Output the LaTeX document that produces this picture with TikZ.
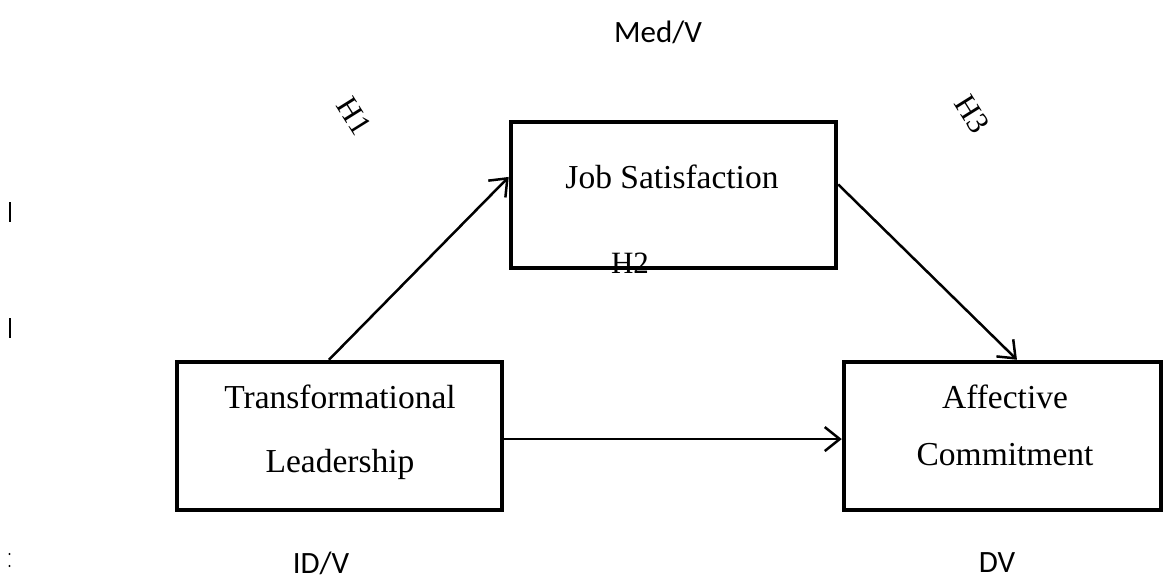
\documentclass[tikz,border=0pt]{standalone}
\usepackage{fontspec}
\setmainfont{Liberation Serif}
\newfontfamily\labsans{Carlito}
\usetikzlibrary{arrows.meta,calc}
\begin{document}
\begin{tikzpicture}[x=1pt,y=-1pt,
  varbox/.style={draw,line width=4.5pt,minimum width=#1,inner sep=0pt},
  serif/.style={font=\fontsize{33.5}{38}\selectfont,inner sep=0pt},
  sanslab/.style={font=\labsans\fontsize{31}{35}\selectfont,inner sep=0pt},
  hyp/.style={font=\fontsize{31}{35}\selectfont,inner sep=0pt},
  link/.style={line width=2.5pt,-{Straight Barb[length=15pt,width=24pt]}}]
\useasboundingbox (0,0) rectangle (1163,579);
% H2 label, partly hidden by the box edge drawn after it
\node[hyp] (h2) at (630,263) {H2};
% boxes
\node[varbox=325pt,minimum height=146pt] (js) at (673.5,195) {};
\node[varbox=325pt,minimum height=148pt] (tl) at (339.5,436) {};
\node[varbox=317pt,minimum height=148pt] (ac) at (1002.5,436) {};
% box texts
\node[serif] (jst) at (672,177) {Job Satisfaction};
\node[serif] (tl1) at (340,397) {Transformational};
\node[serif] (tl2) at (340,464) {Leadership};
\node[serif] (ac1) at (1005,397) {Affective};
\node[serif] (ac2) at (1005,455) {Commitment};
% labels
\node[sanslab] (med) at (658,32) {Med/V};
\node[sanslab] (idv) at (321,563) {ID/V};
\node[sanslab] (dv) at (997,563) {DV};
\node[hyp,rotate=-58] (h1) at (354,116) {H1};
\node[hyp,rotate=-58] (h3) at (972,114) {H3};
% connectors
\coordinate (s1) at ($(tl.north west)!0.468!(tl.north east)$);
\coordinate (e1) at ($(js.north west)!0.38!(js.south west)$);
\coordinate (s3) at ($(js.north east)!0.43!(js.south east)$);
\coordinate (e3) at ($(ac.north west)!0.545!(ac.north east)$);
\coordinate (s2) at ($(tl.north east)!0.52!(tl.south east)$);
\coordinate (e2) at ($(ac.north west)!0.52!(ac.south west)$);
\draw[link] (s1) -- (e1);
\draw[link] (s3) -- (e3);
\draw[link] (s2) -- (e2);
% stray marks at left edge
\coordinate (m1) at (10,202);
\coordinate (m2) at (10,222);
\coordinate (m3) at (10,318);
\coordinate (m4) at (10,338);
\draw[line width=1.2pt] (m1) -- (m2);
\draw[line width=1.2pt] (m3) -- (m4);
\fill (9.5,554) circle (1.2pt);
\fill (9.5,566) circle (1.2pt);
\end{tikzpicture}
\end{document}
